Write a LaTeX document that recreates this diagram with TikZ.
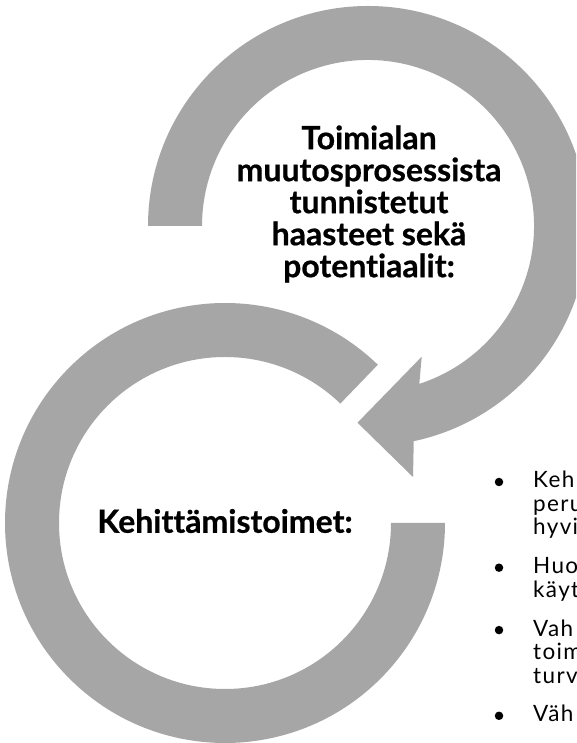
\documentclass[tikz,border=0pt]{standalone}
\usepackage{fontspec}
\setmainfont{Lato}[Ligatures=NoCommon,BoldFeatures={FakeBold=0.6}]
\newfontfamily\itemfont{Lato}[Ligatures=NoCommon,LetterSpace=6]
\usetikzlibrary{calc}
\definecolor{ringgray}{RGB}{166,166,166}
\begin{document}
\begin{tikzpicture}[x=1pt,y=1pt,
  ring/.style={fill=ringgray, draw=none},
  title/.style={font=\bfseries\fontsize{32}{32}\selectfont, align=center, text=black, inner sep=0pt},
  item/.style={font=\itemfont\fontsize{22.5}{24}\selectfont, anchor=base west, inner sep=0pt, text=black},
  dot/.style={circle, fill=black, inner sep=0pt, minimum size=8.5pt}]
\useasboundingbox (0,0) rectangle (576,743);
\clip (0,0) rectangle (576,743);
\fill[white] (0,0) rectangle (576,743);
\coordinate (ct) at (368,517);
\coordinate (cl) at (225,220);
% upper ring with arrow head
\fill[ring] ($(ct)+(180:220)$) arc[start angle=180,end angle=-78,radius=220]
  -- (413,266) -- (357.5,320.3) -- (421.7,386.3)
  -- ($(ct)+(-72:166)$) arc[start angle=-72,end angle=180,radius=166] -- cycle;
% lower ring
\fill[ring] ($(cl)+(46:220)$) arc[start angle=46,end angle=360,radius=220]
  -- ($(cl)+(0:166)$) arc[start angle=360,end angle=46,radius=166] -- cycle;
% texts
\node[title] (t1) at (369,539) {Toimialan\\muutosprosessista\\tunnistetut\\haasteet sekä\\potentiaalit:};
\node[title] (t2) at (225,222) {Kehittämistoimet:};
% bullet list (cut by the right edge)
\node[dot] (b1) at (499,261) {};
\node[item] (l1) at (533,255) {Keh};
\node[item] (l2) at (533,231.5) {peru};
\node[item] (l3) at (533,208) {hyvi};
\node[dot] (b2) at (499,175.3) {};
\node[item] (l4) at (533,169.3) {Huo};
\node[item] (l5) at (533,145.8) {käyt};
\node[dot] (b3) at (499,112.9) {};
\node[item] (l6) at (533,106.9) {Vah};
\node[item] (l7) at (533,83.4) {toim};
\node[item] (l8) at (533,59.9) {turv};
\node[dot] (b4) at (499,27.2) {};
\node[item] (l9) at (533,21.2) {Väh};
\end{tikzpicture}
\end{document}
